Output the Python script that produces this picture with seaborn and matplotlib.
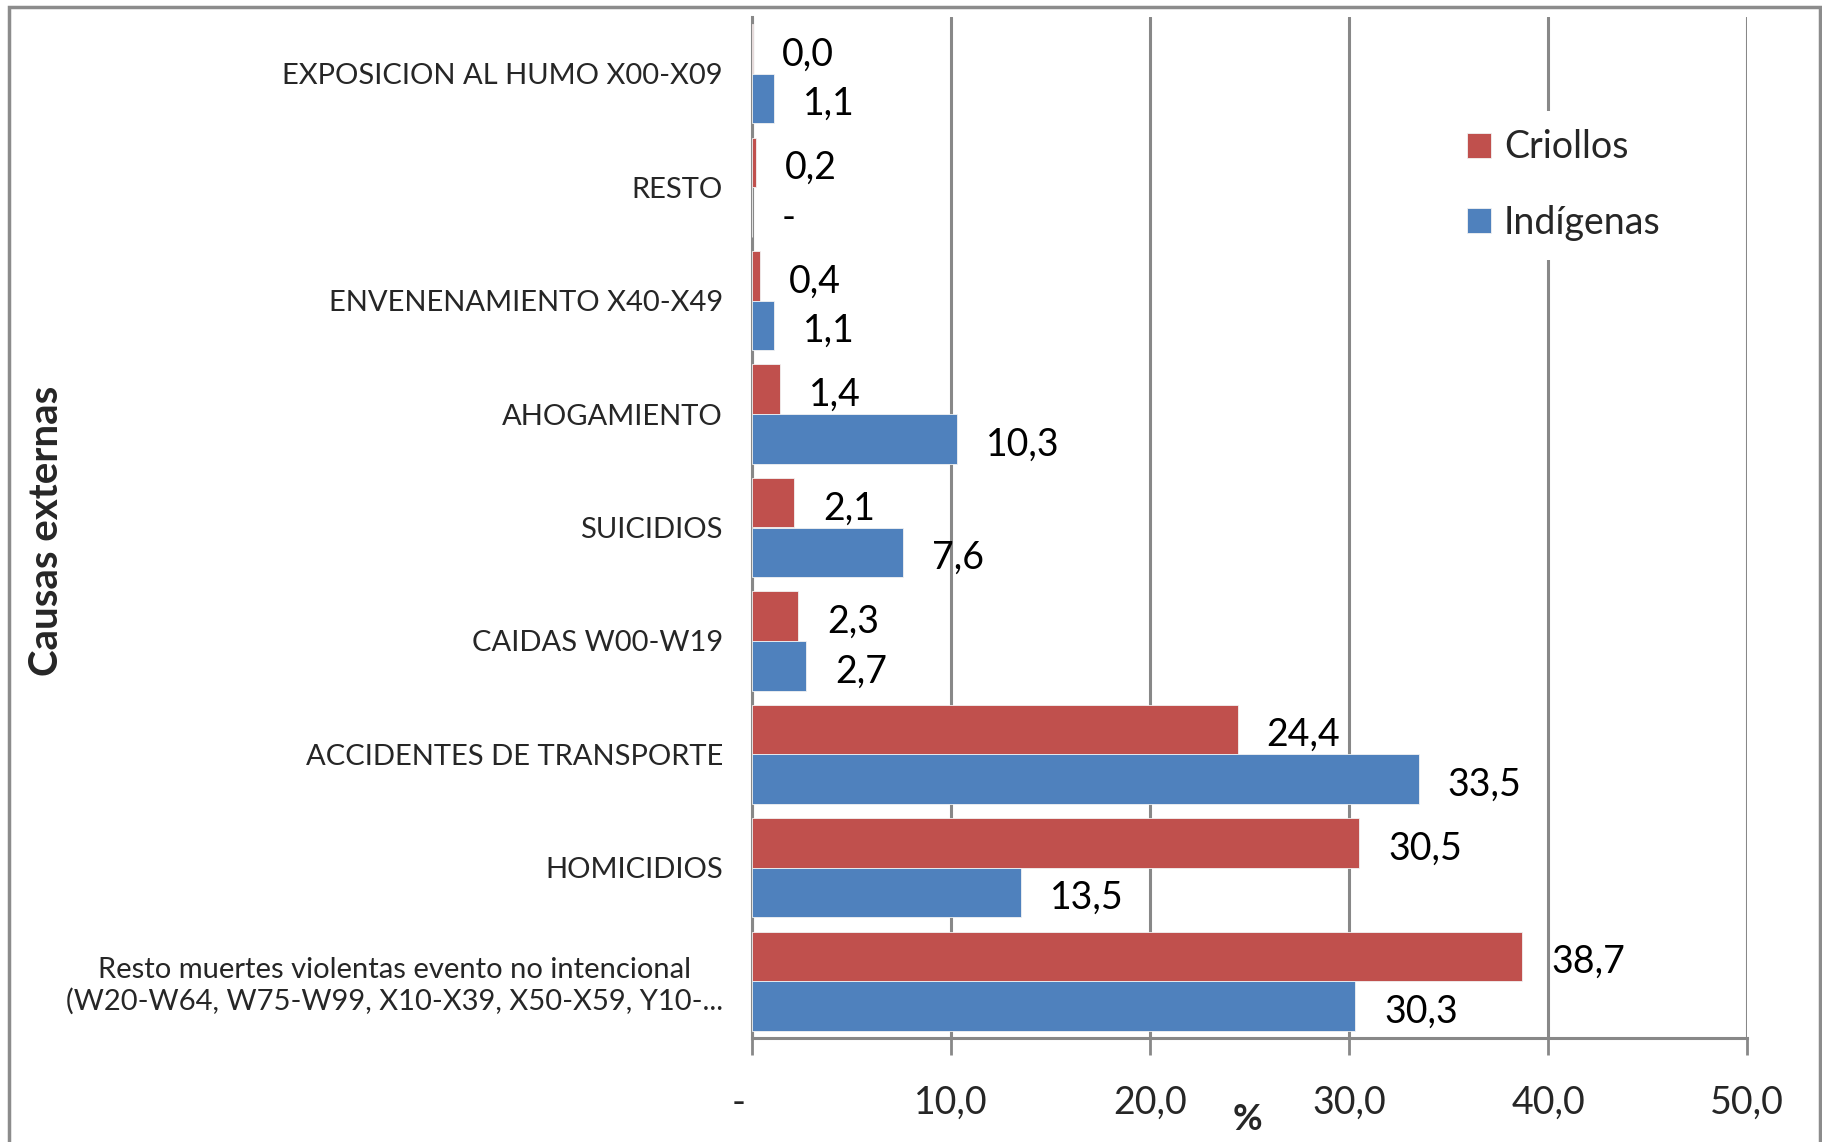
import numpy as np
import pandas as pd
import matplotlib
matplotlib.use('Agg')
import matplotlib.pyplot as plt
from matplotlib.patches import Rectangle
import seaborn as sns

# Datos (% de muertes por causas externas)
causas = [
    'EXPOSICION AL HUMO X00-X09',
    'RESTO',
    'ENVENENAMIENTO X40-X49',
    'AHOGAMIENTO',
    'SUICIDIOS',
    'CAIDAS W00-W19',
    'ACCIDENTES DE TRANSPORTE',
    'HOMICIDIOS',
    'Resto muertes violentas evento no intencional\n(W20-W64, W75-W99, X10-X39, X50-X59, Y10-...',
]
criollos = [0.03, 0.2, 0.4, 1.4, 2.1, 2.3, 24.4, 30.5, 38.7]
indigenas = [1.1, 0.0, 1.1, 10.3, 7.6, 2.7, 33.5, 13.5, 30.3]
grupos = ['Criollos', 'Indígenas']
colores = ['#C0504D', '#4F81BD']
x_ticks = [0, 10, 20, 30, 40, 50]

def fmt(v):
    # formato tipo Excel: cero como "-", coma decimal
    return '-' if v == 0 else f'{v:.1f}'.replace('.', ',')

df = pd.DataFrame({
    'causa': causas * 2,
    'pct': criollos + indigenas,
    'grupo': [grupos[0]] * len(causas) + [grupos[1]] * len(causas),
})

sns.set_style('white')
num_font = ['Lato', 'DejaVu Sans']
plt.rcParams['font.family'] = num_font

fig = plt.figure(figsize=(18.22, 11.42), dpi=100)
ax = fig.add_axes([752 / 1822, 1 - 1038 / 1142, 995 / 1822, (1038 - 17) / 1142])

sns.barplot(data=df, y='causa', x='pct', hue='grupo', orient='h',
            palette=colores, saturation=1, width=0.875, dodge=True,
            edgecolor='#f2f2f2', linewidth=0.6, ax=ax, zorder=3)

# etiquetas de datos
for cont, vals in zip(ax.containers, [criollos, indigenas]):
    for bar, v in zip(cont, vals):
        ax.annotate(fmt(v), (bar.get_x() + bar.get_width(), bar.get_y() + bar.get_height() / 2),
                    xytext=(21, -4), textcoords='offset points', ha='left', va='center',
                    fontsize=27, family=num_font, color='black', zorder=5)

ax.set_xlim(0, 50)
ax.set_xticks(x_ticks)
# el cero se escribe aparte, un poco a la izquierda
ax.set_xticklabels([''] + [fmt(t) for t in x_ticks[1:]], fontsize=27, family=num_font)
ax.annotate(fmt(x_ticks[0]), xy=(x_ticks[0], 0), xycoords=('data', 'axes fraction'),
            xytext=(-9.4, -34), textcoords='offset points', ha='center', va='top',
            fontsize=27, family=num_font)
ax.set_yticks(range(len(causas)))
ax.set_yticklabels(causas, fontsize=21, family=num_font, multialignment='center')
ax.set_xlabel('')
ax.set_ylabel('')

grid_c = '#888888'
ax.grid(axis='x', color=grid_c, linewidth=2.2, zorder=0)
ax.grid(axis='y', visible=False)
ax.set_axisbelow(True)
for s in ['top', 'right']:
    ax.spines[s].set_visible(False)
for s in ['left', 'bottom']:
    ax.spines[s].set_color(grid_c)
    ax.spines[s].set_linewidth(2.2)
ax.tick_params(axis='x', direction='out', length=12, width=2, color=grid_c, pad=22, bottom=True)
ax.tick_params(axis='y', length=0, pad=21)

leg = ax.legend(loc='upper left', bbox_to_anchor=(1429 / 1822, 1 - 92 / 1142),
                bbox_transform=fig.transFigure, fontsize=27, frameon=True,
                handlelength=0.65, handleheight=0.65, handletextpad=0.35,
                labelspacing=1.05, borderpad=0.5)
leg.get_frame().set_facecolor('white')
leg.get_frame().set_edgecolor('none')
leg.get_frame().set_alpha(1)
leg.set_zorder(6)

fig.text(47 / 1822, 1 - 531 / 1142, 'Causas externas', rotation=90, fontsize=29,
         fontweight='bold', family=num_font, ha='center', va='center')
fig.text(1247 / 1822, 1 - 1120 / 1142, '%', fontsize=26, fontweight='bold',
         family=num_font, ha='center', va='center')

# marco exterior del gráfico (sin borde inferior visible)
fig.add_artist(Rectangle((9 / 1822, -20 / 1142), 1811 / 1822, (1142 - 7 + 20) / 1142,
                         transform=fig.transFigure, fill=False,
                         edgecolor='#8c8c8c', linewidth=2.5))

fig.savefig('out.png', dpi=100, facecolor='white')
